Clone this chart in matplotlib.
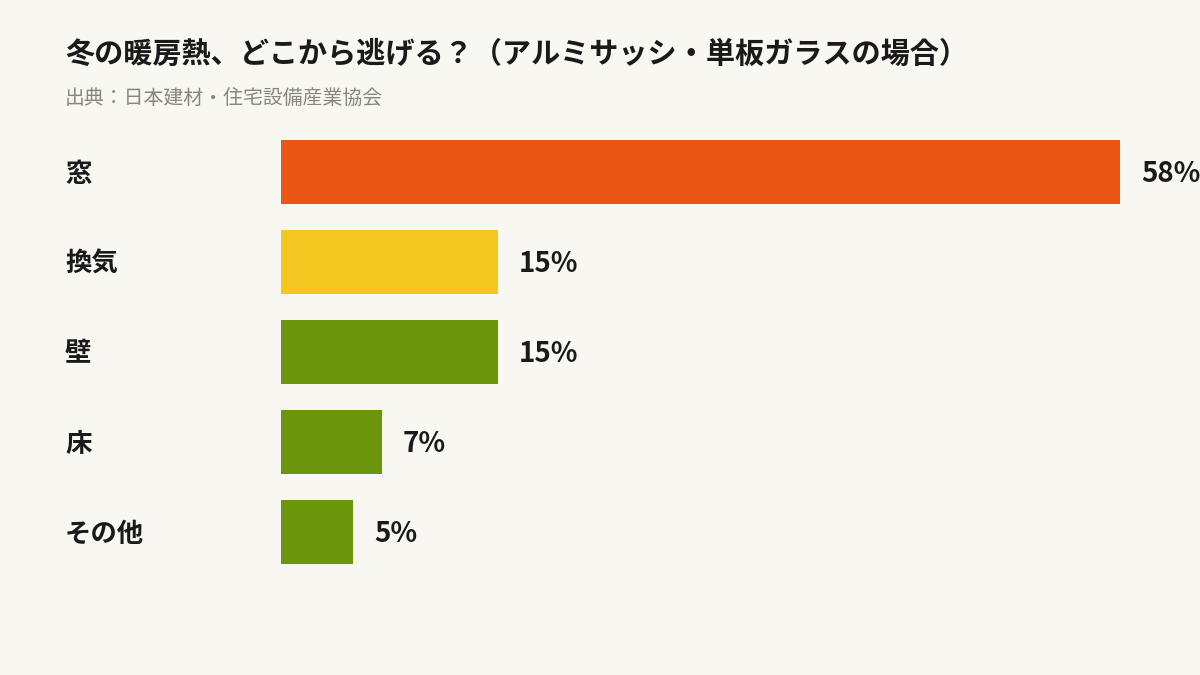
import matplotlib
matplotlib.use("Agg")
import matplotlib.pyplot as plt

plt.rcParams['font.family'] = ['Noto Sans CJK JP', 'DejaVu Sans']

categories = ["窓", "換気", "壁", "床", "その他"]
values = [58, 15, 15, 7, 5]
colors = ["#EB5515", "#F3C71F", "#6B960B", "#6B960B", "#6B960B"]
title = "冬の暖房熱、どこから逃げる？（アルミサッシ・単板ガラスの場合）"
subtitle = "出典：日本建材・住宅設備産業協会"

bg = "#F9F7F2"
fig = plt.figure(figsize=(12, 6.75), dpi=100, facecolor=bg)
ax = fig.add_axes([281/1200, 1-577/675, (1120-281)/1200, 450/675])
ax.set_facecolor(bg)
ax.patch.set_alpha(0)

ypos = list(range(len(categories)))
ax.barh(ypos, values, height=0.72, color=colors, edgecolor="none")
ax.set_xlim(0, max(values))
ax.set_ylim(len(categories)-0.5, -0.5)
for s in ax.spines.values():
    s.set_visible(False)
ax.set_xticks([])
ax.set_yticks([])

for y, v, c in zip(ypos, values, categories):
    ax.annotate(f"{v}%", xy=(v, y), xytext=(15, -1.5), textcoords="offset points",
                ha="left", va="center", fontsize=20, fontweight="bold",
                color="#1a1a1a", annotation_clip=False)
    ax.annotate(c, xy=(0, y), xycoords=("figure fraction", "data"),
                xytext=(65/1200, -1.5), textcoords=("figure fraction", "offset points"),
                ha="left", va="center", fontsize=19, fontweight="bold", color="#1a1a1a")

fig.text(65/1200, 1-54/675, title, ha="left", va="center", fontsize=21,
         fontweight="bold", color="#1a1a1a")
fig.text(65/1200, 1-99/675, subtitle, ha="left", va="center", fontsize=14.3,
         color="#8a8580")

fig.savefig("out.png", dpi=100, facecolor=bg)
